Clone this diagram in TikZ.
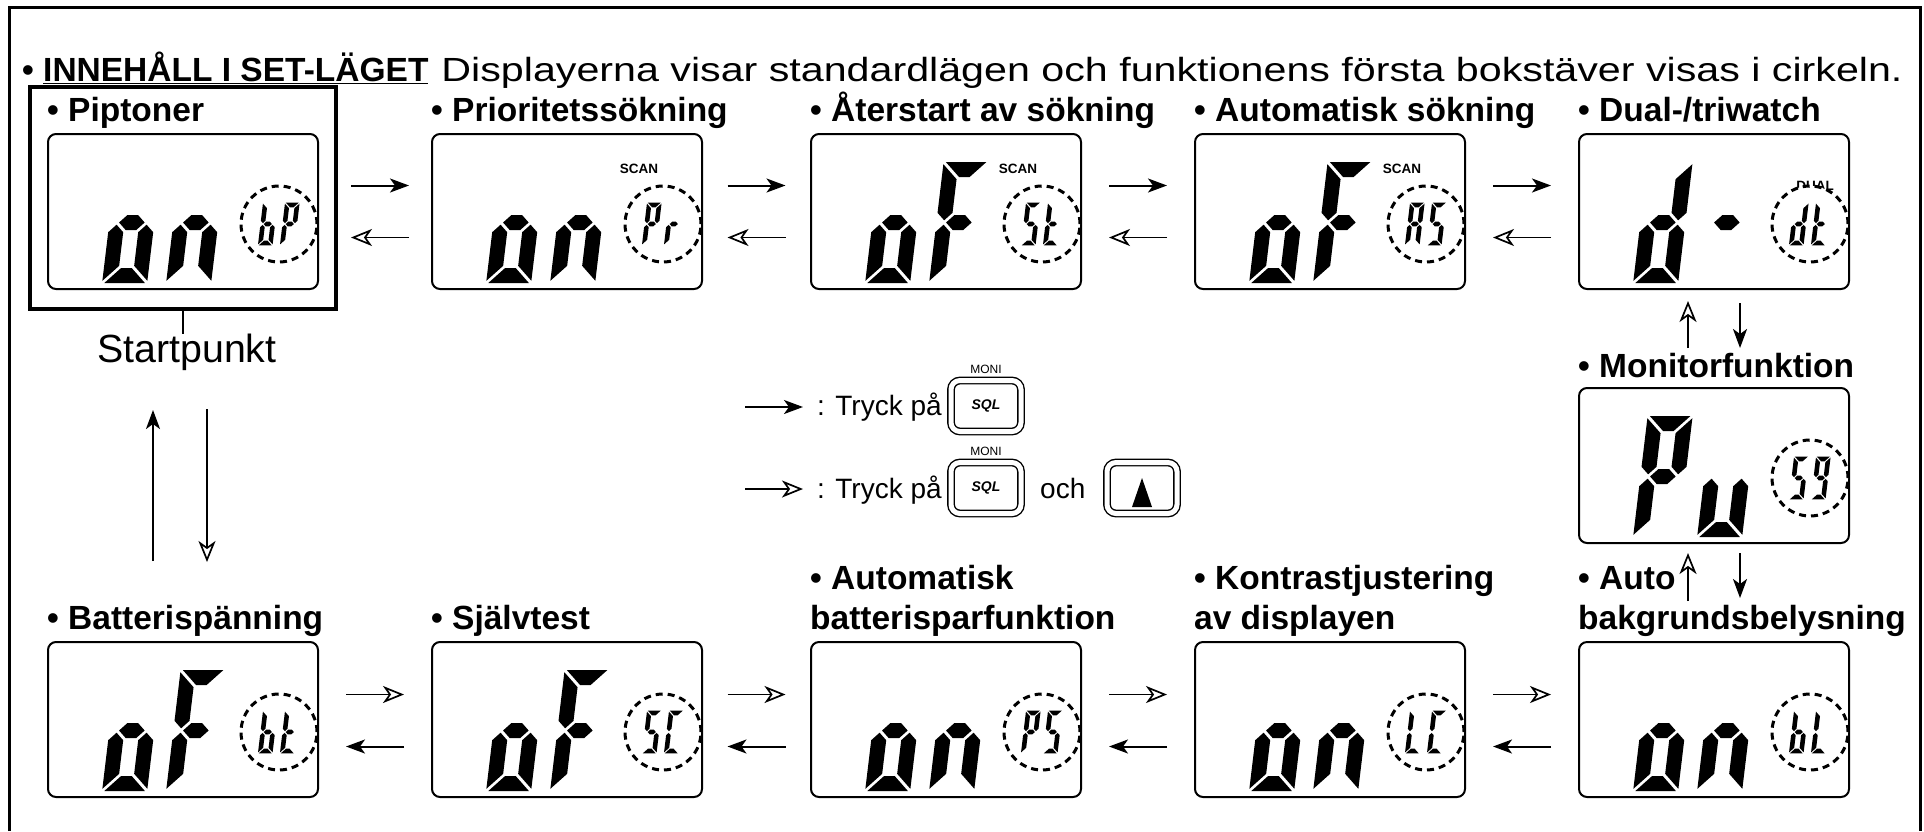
\documentclass[tikz,border=0pt]{standalone}
\usepackage{fontspec}
\setmainfont{Liberation Sans}
\newfontfamily\widefont[FakeStretch=1.23]{Liberation Sans}
\usetikzlibrary{positioning,arrows.meta,calc}

% seven segment glyphs (mitred corners)
\newcommand\lcdbig{\def\lw{30}\def\lh{53}\def\la{7.5}\def\lG{2.2}}
\newcommand\lcdsmall{\def\lw{10}\def\lh{19}\def\la{2.3}\def\lG{0.9}}
\def\lcdsega{\fill (-\la+\lG,-2*\lh-\la) -- (\lw+\la-\lG,-2*\lh-\la) -- (\lw-\la-\lG,-2*\lh+\la) -- (\la+\lG,-2*\lh+\la) -- cycle;}
\def\lcdsegb{\fill (\lw+\la,-2*\lh-\la+\lG) -- (\lw+\la,-\lh-\lG-\la) -- (\lw,-\lh-\lG) -- (\lw-\la,-\lh-\lG-\la) -- (\lw-\la,-2*\lh+\la+\lG) -- cycle;}
\def\lcdsegc{\fill (\lw,-\lh+\lG) -- (\lw+\la,-\lh+\lG+\la) -- (\lw+\la,\la-\lG) -- (\lw-\la,-\la-\lG) -- (\lw-\la,-\lh+\lG+\la) -- cycle;}
\def\lcdsegd{\fill (-\la+\lG,\la) -- (\lw+\la-\lG,\la) -- (\lw-\la-\lG,-\la) -- (\la+\lG,-\la) -- cycle;}
\def\lcdsege{\fill (0,-\lh+\lG) -- (-\la,-\lh+\lG+\la) -- (-\la,\la-\lG) -- (\la,-\la-\lG) -- (\la,-\lh+\lG+\la) -- cycle;}
\def\lcdsegf{\fill (0,-\lh-\lG) -- (-\la,-\lh-\lG-\la) -- (-\la,-2*\lh-\la+\lG) -- (\la,-2*\lh+\la+\lG) -- (\la,-\lh-\lG-\la) -- cycle;}
\def\lcdsegg{\fill (\lG,-\lh) -- (\lG+\la,-\lh-\la) -- (\lw-\lG-\la,-\lh-\la) -- (\lw-\lG,-\lh) -- (\lw-\lG-\la,-\lh+\la) -- (\lG+\la,-\lh+\la) -- cycle;}
\newcommand\lcdchar[4]{\begin{scope}[shift={(#2,#3)},xslant=0.12]#1\foreach \s in {#4}{\csname lcdseg\s\endcsname}\end{scope}}

% one display: node, two big glyphs, two small glyphs in the ring
\newcommand\panel[5]{%
  \begin{scope}[shift={(#1.south west)}]
    \lcdchar\lcdbig{63.5}{-14.5}{#2}
    \lcdchar\lcdbig{127.5}{-14.5}{#3}
    \draw[ring] (232,-66) circle[radius=38pt];
    \lcdchar\lcdsmall{213.5}{-47}{#4}
    \lcdchar\lcdsmall{235.5}{-47}{#5}
  \end{scope}}

\begin{document}
\begin{tikzpicture}[x=1pt,y=-1pt,
  lcd/.style={draw,line width=2pt,rounded corners=8pt,minimum width=270pt,minimum height=155pt,inner sep=0pt,anchor=south west},
  title/.style={anchor=base west,inner sep=0pt,font=\bfseries\fontsize{33.5}{40}\selectfont},
  plain/.style={anchor=base west,inner sep=0pt,font=\fontsize{28}{32}\selectfont},
  ring/.style={line width=3pt,dash pattern=on 7pt off 5pt,fill=white},
  press/.style={-{Stealth[length=19pt,width=14pt,inset=5pt]},line width=2pt},
  pressup/.style={-{Stealth[open,length=21pt,width=17pt,inset=6pt]},line width=1.7pt},
  key/.style={draw,double,double distance=5pt,line width=1.4pt,rounded corners=9pt,minimum width=70pt,minimum height=51pt,inner sep=0pt},
  tag/.style={inner sep=0pt,font=\bfseries\fontsize{13.5}{14}\selectfont}]

\useasboundingbox (0,0) rectangle (1924,831);
\draw[line width=3pt] (9,831) -- (9,7) -- (1920,7) -- (1920,831);

\node[anchor=base west,inner sep=0pt,font=\fontsize{33.5}{40}\selectfont] (head) at (22,81)
  {\textbf{•\ \underline{INNEHÅLL I SET-LÄGET}}\hspace{13pt}{\widefont Displayerna visar standardlägen och funktionens första bokstäver visas i cirkeln.}};

% displays
\foreach \i/\x in {1/47,2/431,3/810,4/1194,5/1578}{
  \node[lcd] (t\i) at (\x,290) {};
  \node[lcd] (b\i) at (\x,798) {};
}
\node[lcd] (mon) at (1578,544) {};

\node[draw,line width=4pt,minimum width=306pt,minimum height=222pt,inner sep=0pt] (start) at (183,198) {};
\draw[line width=2.5pt] (start.south) -- ([yshift=-23pt]start.south);
\node[anchor=base,inner sep=0pt,font=\fontsize{39.3}{44}\selectfont] (sp) at (187,362) {Startpunkt};

% titles
\node[title] (lt1) at (47,121) {• Piptoner};
\node[title] (lt2) at (431,121) {• Prioritetssökning};
\node[title] (lt3) at (810,121) {• Återstart av sökning};
\node[title] (lt4) at (1194,121) {• Automatisk sökning};
\node[title] (lt5) at (1578,121) {• Dual-/triwatch};
\node[title] (lmon) at (1578,377) {• Monitorfunktion};
\node[title] (lb1) at (47,629) {• Batterispänning};
\node[title] (lb2) at (431,629) {• Självtest};
\node[title] (lb3) at (810,589) {• Automatisk};
\node[title] (lb3b) at (810,629) {batterisparfunktion};
\node[title] (lb4) at (1194,589) {• Kontrastjustering};
\node[title] (lb4b) at (1194,629) {av displayen};
\node[title] (lb5) at (1578,589) {• Auto};
\node[title] (lb5b) at (1578,629) {bakgrundsbelysning};

% small display tags
\foreach \n in {t2,t3,t4}{
  \node[tag] at ([shift={(208,-121)}]\n.south west) {SCAN};
}
\node[tag] at ([shift={(237,-104)}]t5.south west) {DUAL};

% glyphs
\panel{t1}{c,d,e,g}{c,e,g}{c,d,e,f,g}{a,b,e,f,g}
\panel{t2}{c,d,e,g}{c,e,g}{a,b,e,f,g}{e,g}
\panel{t3}{c,d,e,g}{a,e,f,g}{a,f,g,c,d}{d,e,f,g}
\panel{t4}{c,d,e,g}{a,e,f,g}{a,b,c,e,f,g}{a,f,g,c,d}
\panel{t5}{b,c,d,e,g}{g}{b,c,d,e,g}{d,e,f,g}
\panel{mon}{a,b,e,f,g}{c,d,e}{a,f,g,c,d}{a,b,c,d,f,g}
\panel{b1}{c,d,e,g}{a,e,f,g}{c,d,e,f,g}{d,e,f,g}
\panel{b2}{c,d,e,g}{a,e,f,g}{a,f,g,c,d}{a,d,e,f}
\panel{b3}{c,d,e,g}{c,e,g}{a,b,e,f,g}{a,f,g,c,d}
\panel{b4}{c,d,e,g}{c,e,g}{d,e,f}{a,d,e,f}
\panel{b5}{c,d,e,g}{c,e,g}{c,d,e,f,g}{d,e,f}

% horizontal steps
\coordinate (g1) at (380,0);
\foreach \a/\b/\g in {t1/t2/1,t2/t3/2,t3/t4/3,t4/t5/4}{
  \coordinate (m) at ($(\a.east)!.5!(\b.west)$);
  \ifnum\g=1 \coordinate (m) at (m -| g1); \fi
  \draw[press] ([shift={(-29,-26)}]m) -- ([shift={(29,-26)}]m);
  \draw[pressup] ([shift={(29,26)}]m) -- ([shift={(-29,26)}]m);
}
\foreach \a/\b in {b1/b2,b2/b3,b3/b4,b4/b5}{
  \coordinate (m) at ($(\a.east)!.5!(\b.west)$);
  \draw[pressup] ([shift={(-29,-25)}]m) -- ([shift={(29,-25)}]m);
  \draw[press] ([shift={(29,27)}]m) -- ([shift={(-29,27)}]m);
}

% vertical steps
\draw[pressup] ([shift={(110,58)}]t5.south west) -- ([shift={(110,11)}]t5.south west);
\draw[press] ([shift={(162,13)}]t5.south west) -- ([shift={(162,58)}]t5.south west);
\draw[pressup] ([shift={(110,57)}]mon.south west) -- ([shift={(110,9)}]mon.south west);
\draw[press] ([shift={(162,9)}]mon.south west) -- ([shift={(162,54)}]mon.south west);
\draw[press] ([shift={(106,-80)}]b1.north west) -- ([shift={(106,-231)}]b1.north west);
\draw[pressup] ([shift={(160,-232)}]b1.north west) -- ([shift={(160,-79)}]b1.north west);

% legend
\coordinate (k0) at (745,407);
\draw[press] (k0) -- ++(58,0);
\node[plain] (l1) at (817,415) {: Tryck på};
\node[key,font=\bfseries\itshape\fontsize{14}{14}\selectfont] (k1) at (986,406) {SQL};
\node[inner sep=0pt,font=\fontsize{12}{12}\selectfont,above=6pt of k1] {MONI};
\coordinate (k00) at (745,489);
\draw[pressup] (k00) -- ++(58,0);
\node[plain] (l2) at (817,498) {: Tryck på};
\node[key,font=\bfseries\itshape\fontsize{14}{14}\selectfont] (k2) at (986,488) {SQL};
\node[inner sep=0pt,font=\fontsize{12}{12}\selectfont,above=6pt of k2] {MONI};
\node[plain] (och) at (1040,498) {och};
\node[key] (k3) at (1142,488) {};
\fill ([shift={(0,-10)}]k3.center) -- ([shift={(10,19)}]k3.center) -- ([shift={(-10,19)}]k3.center) -- cycle;
\end{tikzpicture}
\end{document}
